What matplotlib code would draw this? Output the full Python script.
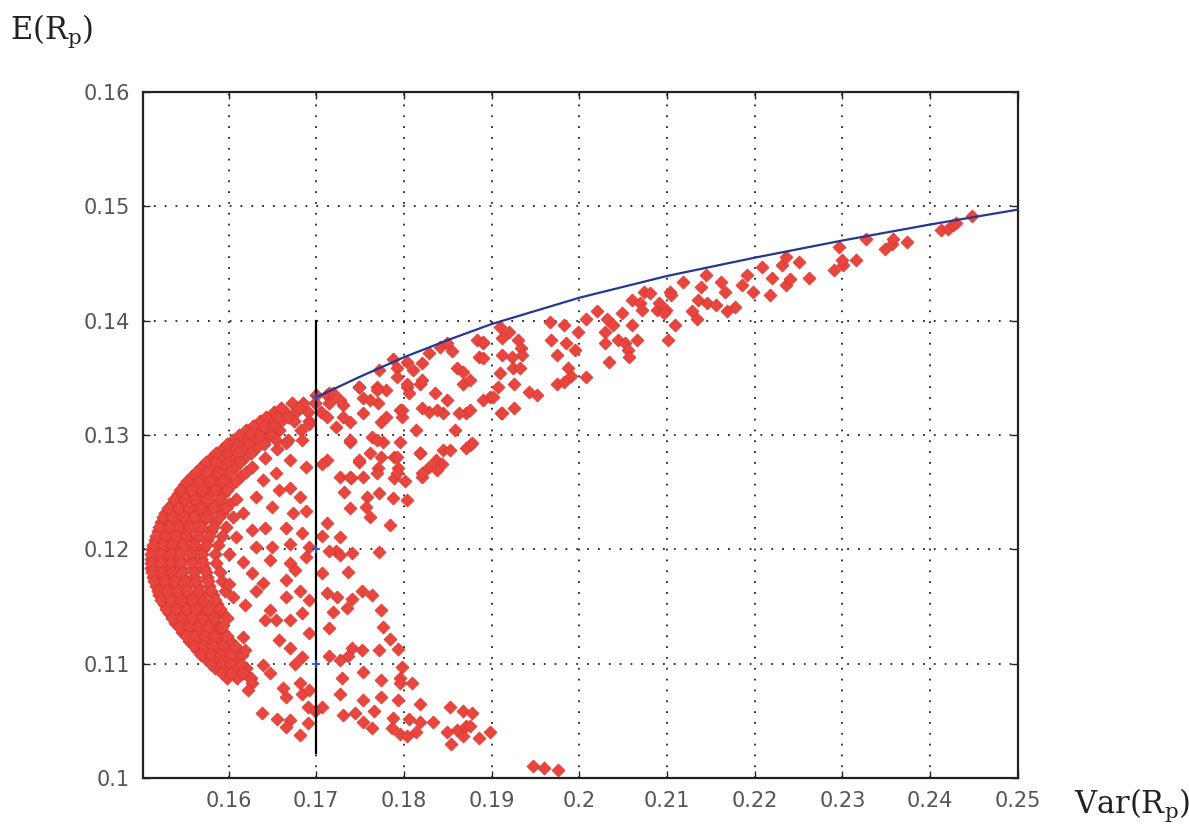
import numpy as np
import matplotlib
matplotlib.use("Agg")
from matplotlib import pyplot as plt

# efficient frontier
frontier_var = [0.170, 0.175, 0.180, 0.185, 0.190, 0.200, 0.210, 0.220, 0.230, 0.240, 0.250]
frontier_ret = [0.1333, 0.1351, 0.1368, 0.1383, 0.1397, 0.1420, 0.1439, 0.1455, 0.1470, 0.1484, 0.1497]

# vertical line at Var = 0.17 and its blue marks
vline_var = 0.17
vline_ret = [0.1022, 0.1400]
mark_ret = [0.1333, 0.1200, 0.1100]

# dense crescent along the left edge: (E(Rp), [Var(Rp) ...])
crescent_rows = [
    (0.1335, [0.1700, 0.1712]),
    (0.1328, [0.1672, 0.1685, 0.1698, 0.1715]),
    (0.1320, [0.1652, 0.1664, 0.1677, 0.1690, 0.1705]),
    (0.1312, [0.1636, 0.1648, 0.1660, 0.1675, 0.1692]),
    (0.1304, [0.1620, 0.1632, 0.1645, 0.1658, 0.1683]),
    (0.1296, [0.1605, 0.1617, 0.1629, 0.1641, 0.1668]),
    (0.1288, [0.1592, 0.1604, 0.1616, 0.1630, 0.1655]),
    (0.1280, [0.1580, 0.1592, 0.1604, 0.1618, 0.1642]),
    (0.1272, [0.1568, 0.1580, 0.1593, 0.1607, 0.1627]),
    (0.1264, [0.1558, 0.1570, 0.1583, 0.1597, 0.1614]),
    (0.1256, [0.1549, 0.1561, 0.1574, 0.1588, 0.1603]),
    (0.1248, [0.1542, 0.1553, 0.1565, 0.1579, 0.1594]),
    (0.1240, [0.1535, 0.1546, 0.1558, 0.1571, 0.1586, 0.1601]),
    (0.1232, [0.1528, 0.1539, 0.1551, 0.1563, 0.1577, 0.1592]),
    (0.1224, [0.1523, 0.1534, 0.1545, 0.1557, 0.1570, 0.1584]),
    (0.1216, [0.1519, 0.1530, 0.1541, 0.1553, 0.1566, 0.1580]),
    (0.1208, [0.1516, 0.1527, 0.1538, 0.1549, 0.1562, 0.1575]),
    (0.1200, [0.1513, 0.1524, 0.1535, 0.1546, 0.1558, 0.1571]),
    (0.1192, [0.1512, 0.1523, 0.1534, 0.1545, 0.1557, 0.1569]),
    (0.1184, [0.1512, 0.1523, 0.1534, 0.1546, 0.1559, 0.1572]),
    (0.1176, [0.1514, 0.1525, 0.1536, 0.1548, 0.1561, 0.1575]),
    (0.1168, [0.1517, 0.1528, 0.1539, 0.1551, 0.1564, 0.1578]),
    (0.1160, [0.1521, 0.1532, 0.1543, 0.1555, 0.1568, 0.1582]),
    (0.1152, [0.1526, 0.1537, 0.1548, 0.1560, 0.1573, 0.1587]),
    (0.1144, [0.1532, 0.1543, 0.1554, 0.1566, 0.1579, 0.1593]),
    (0.1136, [0.1539, 0.1550, 0.1561, 0.1573, 0.1586]),
    (0.1128, [0.1547, 0.1558, 0.1569, 0.1581, 0.1594]),
    (0.1120, [0.1555, 0.1566, 0.1577, 0.1589, 0.1602]),
    (0.1112, [0.1564, 0.1575, 0.1586, 0.1598, 0.1611]),
    (0.1104, [0.1574, 0.1585, 0.1596, 0.1608]),
    (0.1096, [0.1585, 0.1596, 0.1607, 0.1620]),
    (0.1088, [0.1598, 0.1610, 0.1624]),
]

# second, staggered set of crescent points that fills the gaps
crescent_fill = [
    (0.1324, [0.1660, 0.1680]),
    (0.1316, [0.1643, 0.1655, 0.1668]),
    (0.1308, [0.1628, 0.1640, 0.1652]),
    (0.1300, [0.1612, 0.1624, 0.1636, 0.1650]),
    (0.1292, [0.1598, 0.1610, 0.1623, 0.1640]),
    (0.1284, [0.1586, 0.1598, 0.1611, 0.1625]),
    (0.1276, [0.1574, 0.1586, 0.1599, 0.1613]),
    (0.1268, [0.1563, 0.1575, 0.1588, 0.1602, 0.1620]),
    (0.1260, [0.1553, 0.1566, 0.1579, 0.1592, 0.1608]),
    (0.1252, [0.1545, 0.1557, 0.1570, 0.1584, 0.1598]),
    (0.1244, [0.1538, 0.1550, 0.1562, 0.1575, 0.1590, 0.1608]),
    (0.1236, [0.1531, 0.1543, 0.1555, 0.1567, 0.1582, 0.1597]),
    (0.1228, [0.1525, 0.1536, 0.1548, 0.1560, 0.1574, 0.1589, 0.1605]),
    (0.1220, [0.1521, 0.1532, 0.1543, 0.1555, 0.1568, 0.1582, 0.1597]),
    (0.1212, [0.1517, 0.1528, 0.1540, 0.1551, 0.1564, 0.1578, 0.1592]),
    (0.1204, [0.1514, 0.1525, 0.1536, 0.1548, 0.1560, 0.1574, 0.1588]),
    (0.1196, [0.1512, 0.1523, 0.1534, 0.1545, 0.1557, 0.1570, 0.1584, 0.1600]),
    (0.1188, [0.1512, 0.1523, 0.1534, 0.1546, 0.1558, 0.1571, 0.1586]),
    (0.1180, [0.1513, 0.1524, 0.1535, 0.1547, 0.1560, 0.1574, 0.1590]),
    (0.1172, [0.1515, 0.1526, 0.1538, 0.1550, 0.1563, 0.1577, 0.1593]),
    (0.1164, [0.1519, 0.1530, 0.1541, 0.1553, 0.1566, 0.1580, 0.1596]),
    (0.1156, [0.1523, 0.1534, 0.1546, 0.1558, 0.1571, 0.1585]),
    (0.1148, [0.1529, 0.1540, 0.1551, 0.1563, 0.1576, 0.1590]),
    (0.1140, [0.1535, 0.1546, 0.1558, 0.1570, 0.1583, 0.1598]),
    (0.1132, [0.1543, 0.1554, 0.1565, 0.1577, 0.1590]),
    (0.1124, [0.1551, 0.1562, 0.1573, 0.1585, 0.1598]),
    (0.1116, [0.1560, 0.1571, 0.1582, 0.1594, 0.1607]),
    (0.1108, [0.1569, 0.1580, 0.1591, 0.1603, 0.1615]),
    (0.1100, [0.1580, 0.1591, 0.1602, 0.1614]),
    (0.1092, [0.1592, 0.1603, 0.1615]),
]

# sparser points inside the crescent, left of Var = 0.17
inner_pts = [
    (0.1654, 0.1296), (0.1665, 0.1293), (0.1684, 0.1296), (0.1692, 0.1310),
    (0.1670, 0.1278), (0.1654, 0.1267), (0.1688, 0.1272), (0.1639, 0.1261),
    (0.1670, 0.1254), (0.1658, 0.1252), (0.1681, 0.1246), (0.1631, 0.1246),
    (0.1650, 0.1237), (0.1673, 0.1232), (0.1688, 0.1234), (0.1665, 0.1219),
    (0.1642, 0.1219), (0.1684, 0.1214), (0.1627, 0.1217), (0.1670, 0.1205),
    (0.1692, 0.1202), (0.1650, 0.1202), (0.1631, 0.1202), (0.1616, 0.1232),
    (0.1608, 0.1211), (0.1616, 0.1189), (0.1647, 0.1191), (0.1670, 0.1188),
    (0.1688, 0.1193), (0.1627, 0.1179), (0.1639, 0.1171), (0.1665, 0.1173),
    (0.1676, 0.1182), (0.1601, 0.1170), (0.1605, 0.1158), (0.1631, 0.1164),
    (0.1619, 0.1151), (0.1665, 0.1158), (0.1681, 0.1164), (0.1692, 0.1156),
    (0.1647, 0.1147), (0.1684, 0.1144), (0.1642, 0.1138), (0.1654, 0.1138),
    (0.1670, 0.1138), (0.1593, 0.1132), (0.1616, 0.1123), (0.1658, 0.1121),
    (0.1692, 0.1127), (0.1619, 0.1112), (0.1670, 0.1114), (0.1684, 0.1106),
    (0.1639, 0.1099), (0.1676, 0.1100), (0.1616, 0.1092), (0.1625, 0.1088),
    (0.1647, 0.1092), (0.1627, 0.1083), (0.1662, 0.1079), (0.1681, 0.1083),
    (0.1665, 0.1071), (0.1684, 0.1074), (0.1690, 0.1062), (0.1622, 0.1077),
    (0.1638, 0.1057), (0.1655, 0.1052), (0.1670, 0.1051), (0.1665, 0.1045),
    (0.1681, 0.1038), (0.1690, 0.1048), (0.1692, 0.1077), (0.1698, 0.1059),
]

# points right of Var = 0.17, middle band
middle_pts = [
    (0.1715, 0.1337), (0.1730, 0.1326), (0.1749, 0.1342), (0.1753, 0.1332),
    (0.1770, 0.1328), (0.1769, 0.1342), (0.1780, 0.1339), (0.1795, 0.1322),
    (0.1798, 0.1316), (0.1803, 0.1342), (0.1806, 0.1337), (0.1835, 0.1337),
    (0.1829, 0.1320), (0.1844, 0.1319), (0.1867, 0.1345), (0.1890, 0.1331),
    (0.1871, 0.1319), (0.1911, 0.1319), (0.1712, 0.1316), (0.1723, 0.1307),
    (0.1738, 0.1311), (0.1774, 0.1311), (0.1814, 0.1304), (0.1858, 0.1304),
    (0.1738, 0.1294), (0.1764, 0.1298), (0.1776, 0.1294), (0.1795, 0.1294),
    (0.1875, 0.1291), (0.1712, 0.1278), (0.1749, 0.1276), (0.1761, 0.1284),
    (0.1774, 0.1281), (0.1789, 0.1281), (0.1818, 0.1284), (0.1844, 0.1287),
    (0.1837, 0.1278), (0.1829, 0.1272), (0.1727, 0.1263), (0.1740, 0.1262),
    (0.1753, 0.1263), (0.1770, 0.1271), (0.1793, 0.1271), (0.1789, 0.1262),
    (0.1801, 0.1260), (0.1820, 0.1263), (0.1772, 0.1249), (0.1732, 0.1250),
    (0.1758, 0.1246), (0.1787, 0.1245), (0.1803, 0.1243), (0.1738, 0.1236),
    (0.1757, 0.1237), (0.1761, 0.1228), (0.1784, 0.1221), (0.1712, 0.1223),
    (0.1707, 0.1212), (0.1727, 0.1211), (0.1723, 0.1199), (0.1741, 0.1197),
    (0.1772, 0.1198), (0.1715, 0.1199), (0.1727, 0.1195), (0.1736, 0.1180),
    (0.1707, 0.1179), (0.1752, 0.1164), (0.1724, 0.1158), (0.1741, 0.1157),
    (0.1763, 0.1160), (0.1712, 0.1162), (0.1774, 0.1147), (0.1719, 0.1145),
    (0.1735, 0.1149), (0.1715, 0.1131), (0.1776, 0.1132), (0.1784, 0.1122),
    (0.1741, 0.1114), (0.1752, 0.1112), (0.1772, 0.1112), (0.1793, 0.1113),
    (0.1715, 0.1107), (0.1727, 0.1103), (0.1736, 0.1107), (0.1798, 0.1097),
    (0.1706, 0.1062), (0.1852, 0.1287), (0.1843, 0.1275), (0.1821, 0.1267),
    (0.1838, 0.1269), (0.1871, 0.1289), (0.1818, 0.1284), (0.1792, 0.1281),
    (0.1792, 0.1267), (0.1769, 0.1267), (0.1749, 0.1278), (0.1738, 0.1263),
    (0.1769, 0.1296), (0.1738, 0.1296), (0.1707, 0.1275), (0.1877, 0.1293),
    (0.1719, 0.1337), (0.1727, 0.1331), (0.1730, 0.1316), (0.1761, 0.1331),
    (0.1753, 0.1319), (0.1780, 0.1316), (0.1798, 0.1322), (0.1821, 0.1324),
    (0.1838, 0.1322), (0.1849, 0.1331), (0.1863, 0.1319), (0.1875, 0.1322),
    (0.1898, 0.1333),
]

# lower arm running out to the bottom right
lower_pts = [
    (0.1795, 0.1088), (0.1729, 0.1088), (0.1753, 0.1093), (0.1774, 0.1086),
    (0.1795, 0.1083), (0.1809, 0.1083), (0.1727, 0.1074), (0.1753, 0.1068),
    (0.1774, 0.1071), (0.1766, 0.1059), (0.1793, 0.1068), (0.1818, 0.1065),
    (0.1730, 0.1055), (0.1744, 0.1057), (0.1753, 0.1049), (0.1787, 0.1053),
    (0.1806, 0.1052), (0.1818, 0.1049), (0.1833, 0.1049), (0.1852, 0.1062),
    (0.1867, 0.1059), (0.1878, 0.1057), (0.1860, 0.1042), (0.1871, 0.1046),
    (0.1898, 0.1040), (0.1849, 0.1040), (0.1795, 0.1039), (0.1814, 0.1040),
    (0.1764, 0.1044), (0.1786, 0.1044), (0.1803, 0.1037), (0.1854, 0.1030),
    (0.1867, 0.1037), (0.1875, 0.1046), (0.1886, 0.1035), (0.1947, 0.1011),
    (0.1960, 0.1009), (0.1976, 0.1007),
]

# upper arm under the frontier
upper_pts = [
    (0.1772, 0.1357), (0.1787, 0.1366), (0.1792, 0.1359), (0.1803, 0.1364),
    (0.1810, 0.1357), (0.1821, 0.1363), (0.1829, 0.1372), (0.1841, 0.1377),
    (0.1849, 0.1380), (0.1855, 0.1373), (0.1860, 0.1359), (0.1867, 0.1355),
    (0.1875, 0.1348), (0.1883, 0.1383), (0.1890, 0.1380), (0.1886, 0.1368),
    (0.1818, 0.1345), (0.1803, 0.1345), (0.1792, 0.1351), (0.1821, 0.1348),
    (0.1749, 0.1342), (0.1769, 0.1339),
    (0.1890, 0.1381), (0.1909, 0.1394), (0.1920, 0.1390), (0.1912, 0.1385),
    (0.1930, 0.1383), (0.1934, 0.1376), (0.1935, 0.1370), (0.1912, 0.1370),
    (0.1923, 0.1368), (0.1890, 0.1367), (0.1909, 0.1354), (0.1924, 0.1359),
    (0.1932, 0.1359), (0.1926, 0.1345), (0.1907, 0.1342), (0.1901, 0.1333),
    (0.1943, 0.1338), (0.1952, 0.1335), (0.1926, 0.1324), (0.1912, 0.1319),
    (0.1966, 0.1399), (0.1983, 0.1396), (0.1968, 0.1383), (0.1985, 0.1380),
    (0.1974, 0.1370), (0.1995, 0.1374), (0.1998, 0.1390), (0.1987, 0.1359),
    (0.1991, 0.1352), (0.1974, 0.1345), (0.1983, 0.1346), (0.2008, 0.1351),
    (0.2008, 0.1401), (0.2020, 0.1408), (0.2032, 0.1401), (0.2038, 0.1396),
    (0.2029, 0.1390), (0.2029, 0.1380), (0.2044, 0.1383), (0.2052, 0.1380),
    (0.2055, 0.1374), (0.2057, 0.1368), (0.2034, 0.1364), (0.2049, 0.1407),
    (0.2060, 0.1396), (0.2066, 0.1383), (0.2060, 0.1418), (0.2069, 0.1415),
    (0.2072, 0.1409), (0.2074, 0.1425), (0.2080, 0.1424), (0.2088, 0.1409),
    (0.2091, 0.1415), (0.2099, 0.1409), (0.2097, 0.1407), (0.2103, 0.1425),
    (0.2105, 0.1422), (0.2109, 0.1396), (0.2101, 0.1383), (0.2118, 0.1434),
    (0.2129, 0.1408), (0.2134, 0.1401), (0.2135, 0.1418), (0.2139, 0.1429),
    (0.2146, 0.1415), (0.2145, 0.1440), (0.2156, 0.1414), (0.2162, 0.1434),
    (0.2166, 0.1425), (0.2168, 0.1408), (0.2177, 0.1412), (0.2185, 0.1431),
    (0.2191, 0.1440), (0.2198, 0.1425), (0.2208, 0.1447), (0.2217, 0.1422),
    (0.2220, 0.1437), (0.2231, 0.1449), (0.2236, 0.1456), (0.2236, 0.1431),
    (0.2240, 0.1436), (0.2251, 0.1451), (0.2262, 0.1437), (0.2290, 0.1444),
    (0.2296, 0.1464), (0.2301, 0.1449), (0.2299, 0.1453), (0.2316, 0.1453),
    (0.2327, 0.1471), (0.2349, 0.1463), (0.2357, 0.1467), (0.2358, 0.1471),
    (0.2374, 0.1469), (0.2412, 0.1479), (0.2420, 0.1480), (0.2426, 0.1484),
    (0.2429, 0.1485), (0.2448, 0.1491),
]

xticks = [0.16, 0.17, 0.18, 0.19, 0.2, 0.21, 0.22, 0.23, 0.24, 0.25]
yticks = [0.1, 0.11, 0.12, 0.13, 0.14, 0.15, 0.16]

plt.rcParams["mathtext.fontset"] = "dejavuserif"

fig = plt.figure(figsize=(11.89, 8.27), dpi=100)
ax = fig.add_axes([0.120, 0.059, 0.736, 0.830])

rows = crescent_rows + crescent_fill
cres_x = [x for y, xs in rows for x in xs]
cres_y = [y for y, xs in rows for x in xs]
other = np.array(inner_pts + middle_pts + lower_pts + upper_pts)

red = "#e8453f"
ax.scatter(cres_x, cres_y, marker="D", s=46, color=red, edgecolors="#d9362f", linewidths=0.5, zorder=3)
ax.scatter(other[:, 0], other[:, 1], marker="D", s=44, color=red, edgecolors="#d9362f", linewidths=0.5, zorder=3)

ax.plot(frontier_var, frontier_ret, color="#24388f", lw=1.6, zorder=4)
ax.plot([vline_var, vline_var], vline_ret, color="black", lw=1.6, zorder=5)
ax.plot([vline_var] * len(mark_ret), mark_ret, ls="none", marker="+", ms=6, mew=1.2, color="#2a4fd0", zorder=6)

ax.set_xlim(0.1502, 0.25)
ax.set_ylim(0.1, 0.16)
ax.set_xticks(xticks)
ax.set_yticks(yticks)
ax.set_xticklabels([f"{t:g}" for t in xticks])
ax.set_yticklabels([f"{t:g}" for t in yticks])
ax.tick_params(direction="in", length=5, width=1, top=True, right=True,
               labelsize=15, pad=9, colors="#222222")
for lab in ax.get_xticklabels() + ax.get_yticklabels():
    lab.set_color("#555555")
ax.grid(True, color="#222222", linestyle=(0, (1, 5)), linewidth=1.3)
ax.set_axisbelow(True)
for sp in ax.spines.values():
    sp.set_linewidth(1.6)
    sp.set_color("#222222")

fig.text(0.008, 0.962, r"$\mathrm{E(R_p)}$", fontsize=22, ha="left", va="center", color="#222222")
fig.text(0.903, 0.026, r"$\mathrm{Var(R_p)}$", fontsize=22, ha="left", va="center", color="#222222")

fig.savefig("out.png", dpi=100)
